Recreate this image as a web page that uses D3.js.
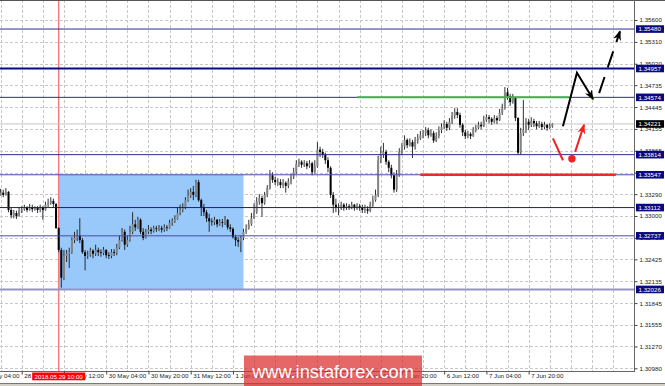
<!DOCTYPE html>
<html>
<head>
<meta charset="utf-8">
<script src="https://cdn.jsdelivr.net/npm/d3@7"></script>
<style>
  body { margin: 0; background: #fff; }
  svg { display: block; font-family: "Liberation Sans", Arial, sans-serif; }
</style>
</head>
<body>
<script>
// hourly candles, 28 May 12:00 .. 8 Jun 05:00 (open of each bar = previous close)
var firstOpen = 1.3328;
var closes = [
  1.3331,1.3328,1.3332,1.3308,1.3301,1.3304,1.3300,1.3307,1.3309,1.3311,
  1.3308,1.3312,1.3309,1.3311,1.3308,1.3311,1.3308,1.3315,1.3317,1.3320,
  1.3316,1.3284,1.3255,1.3218,1.3247,1.3250,1.3252,1.3268,1.3271,1.3274,
  1.3268,1.3252,1.3247,1.3248,1.3254,1.3250,1.3255,1.3252,1.3251,1.3255,
  1.3248,1.3247,1.3252,1.3251,1.3258,1.3268,1.3279,1.3262,1.3268,1.3279,
  1.3289,1.3285,1.3295,1.3279,1.3271,1.3279,1.3282,1.3280,1.3284,1.3283,
  1.3284,1.3282,1.3285,1.3284,1.3291,1.3293,1.3296,1.3304,1.3308,1.3312,
  1.3321,1.3327,1.3332,1.3328,1.3345,1.3321,1.3312,1.3305,1.3297,1.3293,
  1.3292,1.3295,1.3289,1.3292,1.3291,1.3295,1.3285,1.3283,1.3272,1.3268,
  1.3266,1.3271,1.3279,1.3284,1.3289,1.3297,1.3305,1.3319,1.3324,1.3317,
  1.3328,1.3337,1.3354,1.3348,1.3345,1.3345,1.3341,1.3344,1.3340,1.3346,
  1.3352,1.3358,1.3369,1.3372,1.3368,1.3370,1.3366,1.3370,1.3358,1.3366,
  1.3388,1.3385,1.3381,1.3374,1.3364,1.3328,1.3315,1.3311,1.3312,1.3315,
  1.3311,1.3313,1.3312,1.3315,1.3311,1.3313,1.3311,1.3308,1.3309,1.3307,
  1.3315,1.3321,1.3328,1.3374,1.3381,1.3385,1.3372,1.3364,1.3354,1.3335,
  1.3354,1.3385,1.3392,1.3401,1.3394,1.3398,1.3392,1.3400,1.3403,1.3407,
  1.3410,1.3414,1.3407,1.3410,1.3400,1.3406,1.3414,1.3418,1.3422,1.3417,
  1.3425,1.3433,1.3438,1.3434,1.3421,1.3411,1.3406,1.3409,1.3406,1.3414,
  1.3417,1.3421,1.3419,1.3427,1.3431,1.3429,1.3425,1.3430,1.3427,1.3437,
  1.3443,1.3464,1.3459,1.3451,1.3457,1.3430,1.3384,1.3410,1.3414,1.3425,
  1.3421,1.3426,1.3423,1.3419,1.3422,1.3418,1.3421,1.3417,1.3419,1.34221
];
var highs = [
  1.3336,1.3335,1.3337,1.3333,1.3311,1.3308,1.3307,1.3311,1.3313,1.3315,
  1.3313,1.3316,1.3315,1.3313,1.3313,1.3315,1.3313,1.3319,1.3323,1.3325,
  1.3323,1.3317,1.3285,1.3258,1.3255,1.3255,1.3258,1.3272,1.3279,1.3282,
  1.3297,1.3271,1.3255,1.3254,1.3258,1.3256,1.3262,1.3258,1.3256,1.3259,
  1.3256,1.3252,1.3256,1.3256,1.3263,1.3274,1.3284,1.3282,1.3274,1.3287,
  1.3305,1.3295,1.3299,1.3297,1.3284,1.3283,1.3288,1.3285,1.3287,1.3287,
  1.3288,1.3287,1.3289,1.3288,1.3295,1.3297,1.3301,1.3311,1.3315,1.3317,
  1.3325,1.3335,1.3337,1.3340,1.3348,1.3348,1.3323,1.3316,1.3308,1.3303,
  1.3297,1.3299,1.3296,1.3296,1.3296,1.3300,1.3296,1.3289,1.3285,1.3275,
  1.3272,1.3274,1.3283,1.3289,1.3295,1.3304,1.3317,1.3325,1.3329,1.3327,
  1.3332,1.3341,1.3361,1.3358,1.3352,1.3350,1.3349,1.3349,1.3346,1.3350,
  1.3356,1.3364,1.3374,1.3376,1.3374,1.3374,1.3373,1.3374,1.3372,1.3374,
  1.3398,1.3392,1.3389,1.3384,1.3378,1.3366,1.3332,1.3323,1.3317,1.3319,
  1.3317,1.3317,1.3316,1.3319,1.3316,1.3317,1.3316,1.3315,1.3315,1.3313,
  1.3319,1.3327,1.3335,1.3380,1.3392,1.3397,1.3388,1.3374,1.3368,1.3358,
  1.3361,1.3390,1.3397,1.3407,1.3403,1.3403,1.3401,1.3405,1.3409,1.3413,
  1.3414,1.3418,1.3417,1.3415,1.3413,1.3411,1.3419,1.3423,1.3427,1.3425,
  1.3430,1.3438,1.3443,1.3443,1.3437,1.3423,1.3414,1.3413,1.3411,1.3418,
  1.3421,1.3425,1.3425,1.3433,1.3435,1.3434,1.3431,1.3434,1.3433,1.3442,
  1.3449,1.3471,1.3470,1.3462,1.3462,1.3458,1.3431,1.3417,1.3454,1.3430,
  1.3429,1.3431,1.3429,1.3426,1.3426,1.3425,1.3425,1.3422,1.3423,1.3423
];
var lows = [
  1.3327,1.3325,1.3327,1.3305,1.3297,1.3297,1.3296,1.3299,1.3304,1.3307,
  1.3305,1.3307,1.3305,1.3307,1.3304,1.3305,1.3295,1.3307,1.3312,1.3315,
  1.3312,1.3283,1.3252,1.3205,1.3215,1.3239,1.3231,1.3250,1.3264,1.3267,
  1.3264,1.3250,1.3228,1.3243,1.3246,1.3244,1.3247,1.3247,1.3246,1.3248,
  1.3244,1.3243,1.3244,1.3247,1.3248,1.3256,1.3266,1.3255,1.3259,1.3266,
  1.3276,1.3280,1.3283,1.3276,1.3268,1.3270,1.3276,1.3276,1.3278,1.3279,
  1.3280,1.3278,1.3279,1.3280,1.3283,1.3287,1.3291,1.3295,1.3301,1.3305,
  1.3309,1.3319,1.3324,1.3321,1.3325,1.3319,1.3300,1.3300,1.3292,1.3279,
  1.3287,1.3288,1.3285,1.3287,1.3285,1.3288,1.3282,1.3279,1.3270,1.3260,
  1.3259,1.3252,1.3268,1.3276,1.3282,1.3287,1.3296,1.3303,1.3315,1.3299,
  1.3315,1.3325,1.3335,1.3344,1.3341,1.3340,1.3337,1.3337,1.3331,1.3337,
  1.3342,1.3349,1.3356,1.3365,1.3364,1.3365,1.3362,1.3364,1.3354,1.3356,
  1.3364,1.3378,1.3377,1.3369,1.3358,1.3324,1.3304,1.3305,1.3301,1.3308,
  1.3307,1.3308,1.3308,1.3309,1.3307,1.3308,1.3307,1.3304,1.3304,1.3303,
  1.3305,1.3312,1.3319,1.3325,1.3370,1.3377,1.3368,1.3358,1.3350,1.3331,
  1.3332,1.3352,1.3381,1.3388,1.3390,1.3392,1.3377,1.3388,1.3396,1.3401,
  1.3403,1.3406,1.3403,1.3405,1.3397,1.3398,1.3403,1.3410,1.3415,1.3413,
  1.3414,1.3422,1.3429,1.3430,1.3417,1.3406,1.3402,1.3403,1.3402,1.3405,
  1.3411,1.3415,1.3415,1.3418,1.3425,1.3423,1.3421,1.3423,1.3422,1.3426,
  1.3434,1.3441,1.3454,1.3446,1.3449,1.3426,1.3381,1.3381,1.3406,1.3410,
  1.3414,1.3418,1.3418,1.3415,1.3417,1.3414,1.3415,1.3413,1.3415,1.3417
];

// price scale ticks
var yTicks = [1.35600, 1.35310, 1.35020, 1.34735, 1.34445, 1.34155, 1.33865, 1.33575, 1.33290,
              1.33000, 1.32710, 1.32425, 1.32135, 1.31845, 1.31555, 1.31270, 1.30980];
// time scale labels (bar index relative to 28 May 12:00)
var xLabelBars = [-8, 8, 24, 40, 56, 72, 88, 104, 120, 136, 152, 168, 184, 200];
var xLabels = ["28 May 04:00", "28 May 20:00", "29 May 12:00", "30 May 04:00", "30 May 20:00",
               "31 May 12:00", "1 Jun 04:00", "1 Jun 20:00", "4 Jun 12:00", "5 Jun 04:00",
               "5 Jun 20:00", "6 Jun 12:00", "7 Jun 04:00", "7 Jun 20:00"];

// horizontal levels
var levels = [1.35480, 1.34957, 1.34574, 1.33814, 1.33547, 1.33112, 1.32737, 1.32026];
var bidPrice = 1.34221;

// marker line + rectangle zone
var markerBar = 22;
var markerText = "2018.05.29 10:00";
var zoneBars = [22, 92];
var zonePrices = [1.33547, 1.32026];

// green / red target lines
var greenBars = [135, 215.3];
var greenPrice = 1.34574;
var redBars = [159, 233];
var redPrice = 1.33547;

// hand drawn arrows [bar, price]
var blackPath = [[213, 1.3419], [218.3, 1.3490], [224.4, 1.3455]];
var blackDashed = [[226.7, 1.3463], [234.6, 1.3545]];
var redPath = [[209.2, 1.3403], [213, 1.3374]];
var redDot = [216.4, 1.3376];
var redArrow = [[217.6, 1.3385], [221, 1.3421]];

var width = 665, height = 386;
var plotRight = 634, plotBottom = 371;

var levelStyle = [
  ["#2c2c8e", 1], ["#0a0a88", 2], ["#2c2c8e", 1], ["#2c2c8e", 1],
  ["#4a4aa4", 1], ["#1a1a88", 1], ["#4a4aa4", 1], ["#9494cc", 2]
];

var x = d3.scaleLinear().domain([0, 209]).range([0.6, 552.4]);
var y = d3.scaleLinear().domain([1.3098, 1.3560]).range([368.3, 20]);

var svg = d3.select("body").append("svg")
  .attr("width", width)
  .attr("height", height);

svg.append("rect").attr("width", width).attr("height", height).attr("fill", "#fff");

var defs = svg.append("defs");
defs.append("clipPath").attr("id", "plot")
  .append("rect").attr("width", plotRight).attr("height", plotBottom);

function arrowHead(id, color) {
  defs.append("marker")
    .attr("id", id)
    .attr("viewBox", "0 0 10 8")
    .attr("refX", 9).attr("refY", 4)
    .attr("markerWidth", 10).attr("markerHeight", 8)
    .attr("markerUnits", "userSpaceOnUse")
    .attr("orient", "auto")
    .append("path").attr("d", "M0,0 L10,4 L0,8 L3,4 z").attr("fill", color);
}
arrowHead("ah-black", "#000");
arrowHead("ah-red", "#ee2222");

var plot = svg.append("g").attr("clip-path", "url(#plot)");

// grid
plot.selectAll(".vgrid").data(d3.range(0, 241, 8)).enter().append("line")
  .attr("x1", function(d) { return Math.round(x(d)) + 0.5; })
  .attr("x2", function(d) { return Math.round(x(d)) + 0.5; })
  .attr("y1", 0).attr("y2", plotBottom)
  .attr("stroke", "#c8c8c8").attr("stroke-dasharray", "3,2");

plot.selectAll(".hgrid").data(yTicks).enter().append("line")
  .attr("x1", 0).attr("x2", plotRight)
  .attr("y1", function(d) { return Math.round(y(d)) + 0.5; })
  .attr("y2", function(d) { return Math.round(y(d)) + 0.5; })
  .attr("stroke", "#c8c8c8").attr("stroke-dasharray", "3,2");

// blue zone
plot.append("rect")
  .attr("x", x(zoneBars[0]))
  .attr("y", y(zonePrices[0]))
  .attr("width", x(zoneBars[1]) - x(zoneBars[0]))
  .attr("height", y(zonePrices[1]) - y(zonePrices[0]))
  .attr("fill", "#99c9fb");

// vertical marker
plot.append("line")
  .attr("x1", x(markerBar)).attr("x2", x(markerBar))
  .attr("y1", 0).attr("y2", plotBottom)
  .attr("stroke", "#f47c7c").attr("stroke-width", 1.5);

// bid line
plot.append("line")
  .attr("x1", 0).attr("x2", plotRight)
  .attr("y1", y(bidPrice)).attr("y2", y(bidPrice))
  .attr("stroke", "#c4c4c4");

// candles
var bars = closes.map(function(c, i) {
  return { i: i, o: i === 0 ? firstOpen : closes[i - 1], c: c, h: highs[i], l: lows[i] };
});

var candle = plot.selectAll(".candle").data(bars).enter().append("g");
candle.append("line")
  .attr("x1", function(d) { return x(d.i); })
  .attr("x2", function(d) { return x(d.i); })
  .attr("y1", function(d) { return y(Math.max(d.h, d.o, d.c)); })
  .attr("y2", function(d) { return y(Math.min(d.l, d.o, d.c)); })
  .attr("stroke", "#1a1a1a").attr("stroke-width", 0.9);
candle.append("rect")
  .attr("x", function(d) { return x(d.i) - 1; })
  .attr("width", 2)
  .attr("y", function(d) { return y(Math.max(d.o, d.c)); })
  .attr("height", function(d) { return Math.max(0.8, Math.abs(y(d.o) - y(d.c))); })
  .attr("fill", function(d) { return d.c >= d.o ? "#858585" : "#000"; });

// levels
plot.selectAll(".level").data(levels).enter().append("line")
  .attr("x1", 0).attr("x2", plotRight)
  .attr("y1", function(d) { return y(d); })
  .attr("y2", function(d) { return y(d); })
  .attr("stroke", function(d, i) { return levelStyle[i][0]; })
  .attr("stroke-width", function(d, i) { return levelStyle[i][1]; });

// green & red lines
plot.append("line")
  .attr("x1", x(greenBars[0])).attr("x2", x(greenBars[1]))
  .attr("y1", y(greenPrice)).attr("y2", y(greenPrice))
  .attr("stroke", "#3fb34a").attr("stroke-width", 2);
plot.append("line")
  .attr("x1", x(redBars[0])).attr("x2", x(redBars[1]))
  .attr("y1", y(redPrice)).attr("y2", y(redPrice))
  .attr("stroke", "#ec2a2a").attr("stroke-width", 2.5);

// arrows
var line = d3.line()
  .x(function(d) { return x(d[0]); })
  .y(function(d) { return y(d[1]); });

plot.append("path").attr("d", line(redPath))
  .attr("fill", "none").attr("stroke", "#ee2222").attr("stroke-width", 2);
plot.append("circle")
  .attr("cx", x(redDot[0])).attr("cy", y(redDot[1])).attr("r", 3.7)
  .attr("fill", "#ee2222");
plot.append("path").attr("d", line(redArrow))
  .attr("fill", "none").attr("stroke", "#ee2222").attr("stroke-width", 2)
  .attr("marker-end", "url(#ah-red)");

plot.append("path").attr("d", line(blackPath))
  .attr("fill", "none").attr("stroke", "#000").attr("stroke-width", 2)
  .attr("marker-end", "url(#ah-black)");
plot.append("path").attr("d", line(blackDashed))
  .attr("fill", "none").attr("stroke", "#000").attr("stroke-width", 2)
  .attr("stroke-dasharray", "17,10")
  .attr("marker-end", "url(#ah-black)");

// frame
svg.append("line").attr("x1", 0).attr("x2", width).attr("y1", 0.5).attr("y2", 0.5)
  .attr("stroke", "#555");
svg.append("line").attr("x1", plotRight + 0.5).attr("x2", plotRight + 0.5)
  .attr("y1", 0).attr("y2", plotBottom).attr("stroke", "#666");
svg.append("line").attr("x1", 0).attr("x2", plotRight + 1)
  .attr("y1", plotBottom + 0.5).attr("y2", plotBottom + 0.5).attr("stroke", "#666");

// price axis
var yAxis = svg.append("g")
  .attr("transform", "translate(" + (plotRight + 0.5) + ",0)")
  .call(d3.axisRight(y).tickValues(yTicks).tickFormat(d3.format(".5f")).tickSize(3).tickPadding(2));
yAxis.select(".domain").remove();
yAxis.selectAll("line").attr("stroke", "#444");
yAxis.selectAll("text").attr("font-size", 6.2).attr("fill", "#222")
  .attr("font-family", "'Liberation Sans', Arial, sans-serif");

// time axis
var xAxis = svg.append("g")
  .attr("transform", "translate(0," + (plotBottom + 0.5) + ")")
  .call(d3.axisBottom(x).tickValues(xLabelBars)
    .tickFormat(function(d, i) { return xLabels[i]; }).tickSize(3).tickPadding(1));
xAxis.select(".domain").remove();
xAxis.selectAll("line").attr("stroke", "#444");
xAxis.selectAll("text")
  .attr("text-anchor", "start").attr("x", 2).attr("y", 2)
  .attr("font-size", 6.2).attr("fill", "#222")
  .attr("font-family", "'Liberation Sans', Arial, sans-serif");

// level labels on the price axis
var tags = svg.selectAll(".tag").data(levels).enter().append("g")
  .attr("transform", function(d) { return "translate(636," + y(d) + ")"; });
tags.append("rect").attr("x", 0).attr("y", -3.8).attr("width", 28).attr("height", 7.6)
  .attr("fill", "#0a0a80");
tags.append("text").attr("x", 2.5).attr("dy", "0.35em")
  .attr("font-size", 6.2).attr("fill", "#fff")
  .text(function(d) { return d3.format(".5f")(d); });

var bid = svg.append("g").attr("transform", "translate(636," + y(bidPrice) + ")");
bid.append("rect").attr("x", 0).attr("y", -3.8).attr("width", 28).attr("height", 7.6).attr("fill", "#000");
bid.append("text").attr("x", 2.5).attr("dy", "0.35em").attr("font-size", 6.2).attr("fill", "#fff")
  .text(d3.format(".5f")(bidPrice));

// marker date label
var mx = x(markerBar);
svg.append("rect").attr("x", mx - 26.5).attr("y", 372.5).attr("width", 53).attr("height", 7.8)
  .attr("fill", "#ff0000");
svg.append("text").attr("x", mx).attr("y", 378.8).attr("text-anchor", "middle")
  .attr("font-size", 6.2).attr("fill", "#fff").text(markerText);

// bottom band
svg.append("rect").attr("x", 0).attr("y", 383).attr("width", width).attr("height", 3).attr("fill", "#d4d0c8");
svg.append("line").attr("x1", 0).attr("x2", width).attr("y1", 383.5).attr("y2", 383.5).attr("stroke", "#777");

// watermark
svg.append("rect").attr("x", 244).attr("y", 355.5).attr("width", 178).attr("height", 31)
  .attr("fill", "rgb(220,45,45)").attr("opacity", 0.72);
svg.append("text").attr("x", 333).attr("y", 377.5).attr("text-anchor", "middle")
  .attr("font-size", 18.2).attr("fill", "#fff")
  .attr("font-family", "'Liberation Sans', Arial, sans-serif")
  .text("www.instaforex.com");
</script>
</body>
</html>
